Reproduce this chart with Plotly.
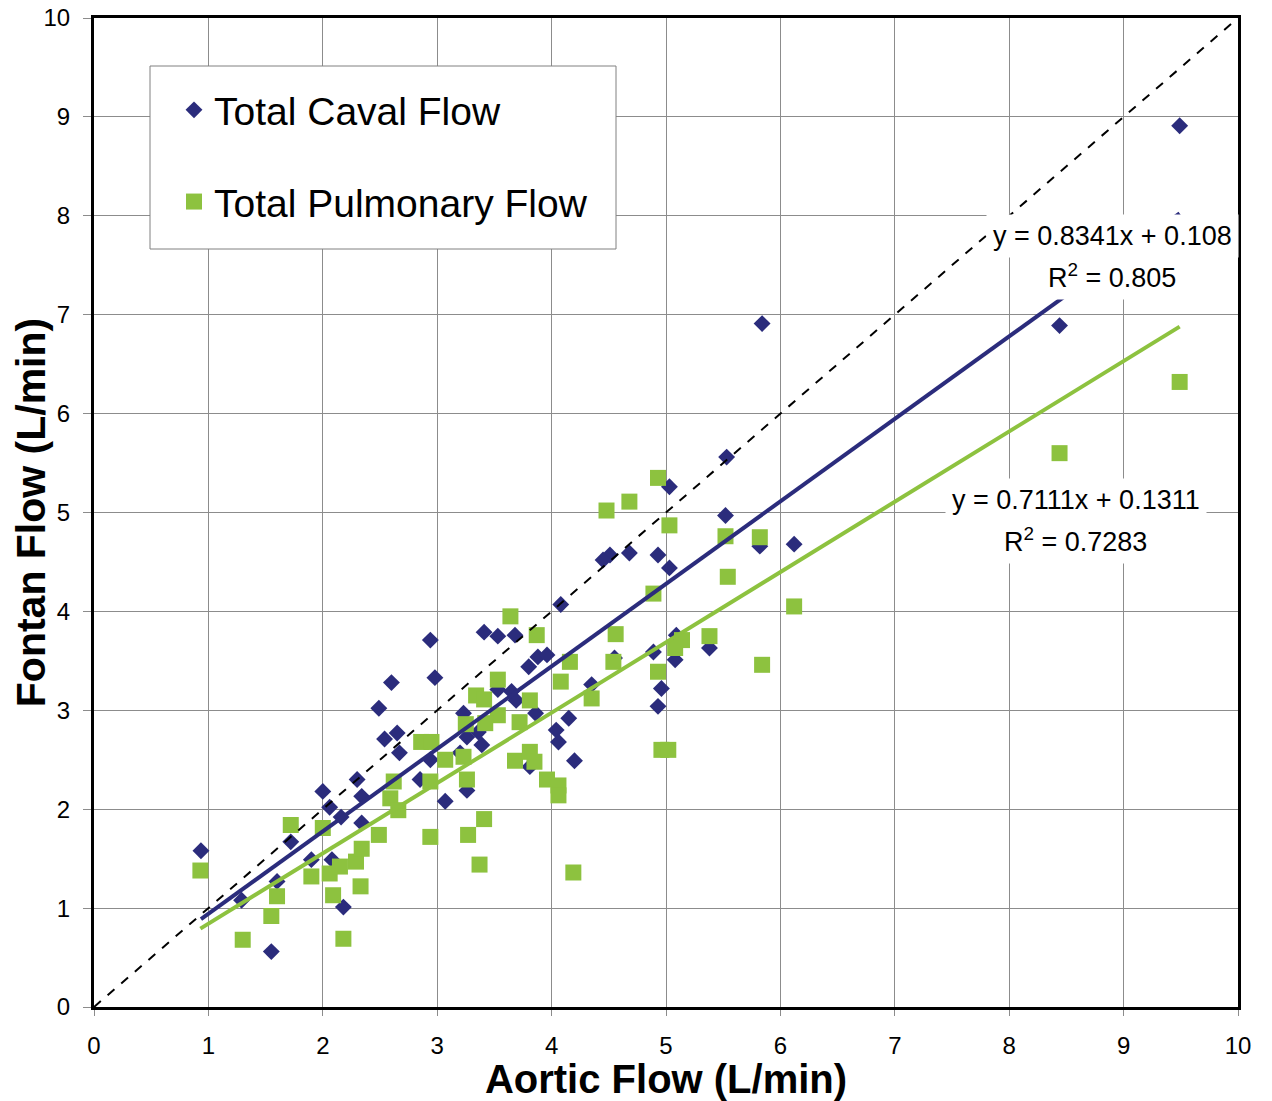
import plotly.graph_objects as go

# ---- data ----
caval_x = [0.935, 1.29, 1.55, 1.60, 1.72, 1.90, 2.00, 2.06, 2.16, 2.08, 2.18, 2.30, 2.34, 2.34,
           2.49, 2.60, 2.54, 2.65, 2.67, 2.94, 2.98, 2.85, 2.94, 3.07, 3.26, 3.23, 3.36, 3.39,
           3.26, 3.20, 3.41, 3.53, 3.68, 4.08, 3.80, 3.88, 3.96, 3.65, 3.69, 3.53, 3.86, 4.15,
           4.04, 4.06, 4.20, 3.81, 5.03, 5.53, 5.52, 4.51, 4.45, 4.68, 4.93, 5.03, 5.82, 6.12,
           4.55, 4.89, 5.09, 5.08, 5.38, 4.96, 4.93, 4.35, 9.49, 8.44, 5.84]
caval_y = [1.58, 1.08, 0.56, 1.27, 1.67, 1.49, 2.18, 2.02, 1.92, 1.49, 1.01, 2.30, 2.13, 1.86,
           3.02, 3.28, 2.71, 2.77, 2.57, 3.71, 3.33, 2.30, 2.50, 2.08, 2.19, 2.97, 2.78, 2.65,
           2.73, 2.57, 3.79, 3.75, 3.76, 4.07, 3.44, 3.54, 3.56, 3.19, 3.10, 3.21, 2.97, 2.92,
           2.80, 2.68, 2.49, 2.43, 5.26, 5.56, 4.97, 4.57, 4.52, 4.59, 4.57, 4.44, 4.66, 4.68,
           3.53, 3.59, 3.76, 3.51, 3.63, 3.22, 3.04, 3.26, 8.91, 6.89, 6.91]

pulm_x = [0.93, 1.30, 1.55, 1.60, 1.72, 1.90, 2.00, 2.06, 2.09, 2.18, 2.15, 2.29, 2.34, 2.33,
          2.49, 2.62, 2.59, 2.66, 2.86, 2.95, 2.94, 2.94, 3.64, 3.87, 4.16, 4.08, 3.53, 3.34,
          3.41, 3.81, 3.53, 3.42, 3.25, 3.72, 3.07, 3.23, 3.26, 3.27, 3.41, 3.37, 4.19, 3.68,
          3.81, 3.85, 3.96, 4.06, 4.06, 4.93, 4.48, 4.68, 5.03, 5.52, 5.82, 5.54, 4.89, 6.12,
          4.56, 5.14, 5.38, 5.08, 4.54, 4.93, 5.84, 4.35, 4.96, 5.02, 8.44, 9.49]
pulm_y = [1.38, 0.68, 0.92, 1.12, 1.84, 1.32, 1.81, 1.35, 1.13, 0.69, 1.42, 1.47, 1.60, 1.22,
          1.74, 2.28, 2.11, 1.99, 2.68, 2.68, 2.28, 1.72, 3.95, 3.76, 3.49, 3.29, 3.31, 3.15,
          3.11, 3.10, 2.95, 2.87, 2.86, 2.88, 2.50, 2.53, 2.30, 1.74, 1.90, 1.44, 1.36, 2.49,
          2.58, 2.48, 2.30, 2.24, 2.14, 5.35, 5.02, 5.11, 4.87, 4.76, 4.75, 4.35, 4.18, 4.05,
          3.77, 3.71, 3.75, 3.63, 3.49, 3.39, 3.46, 3.12, 2.60, 2.60, 5.60, 6.32]

# trendline coefficients as printed on the chart
caval_slope, caval_intercept, caval_r2 = 0.8341, 0.108, "0.805"
pulm_slope, pulm_intercept, pulm_r2 = 0.7111, 0.1311, "0.7283"

axis_ticks = list(range(0, 11))

NAVY = "#2B2C7C"
GREEN = "#8DC23F"

fig = go.Figure()
fig.add_trace(go.Scatter(x=caval_x, y=caval_y, mode="markers", name="Total Caval Flow",
                         legendgroup="caval",
                         marker=dict(symbol="diamond", size=13, color=NAVY)))
fig.add_trace(go.Scatter(x=pulm_x, y=pulm_y, mode="markers", name="Total Pulmonary Flow",
                         legendgroup="pulm",
                         marker=dict(symbol="square", size=16, color=GREEN)))

cx = [min(caval_x), max(caval_x)]
px_ = [min(pulm_x), max(pulm_x)]
fig.add_trace(go.Scatter(x=cx, y=[caval_slope * v + caval_intercept for v in cx], mode="lines",
                         line=dict(color=NAVY, width=4), showlegend=False, hoverinfo="skip"))
fig.add_trace(go.Scatter(x=px_, y=[pulm_slope * v + pulm_intercept for v in px_], mode="lines",
                         line=dict(color=GREEN, width=4), showlegend=False, hoverinfo="skip"))
fig.add_trace(go.Scatter(x=[axis_ticks[0], axis_ticks[-1]], y=[axis_ticks[0], axis_ticks[-1]],
                         mode="lines", line=dict(color="black", width=2, dash="dash"),
                         showlegend=False, hoverinfo="skip"))

FONT = "Liberation Sans, Arial, sans-serif"

ann_font = dict(family=FONT, size=27, color="black")
fig.add_annotation(x=8.90, y=7.80, text=f"y = {caval_slope}x + {caval_intercept}", showarrow=False,
                   font=ann_font, bgcolor="white", borderpad=6)
fig.add_annotation(x=8.90, y=7.39, text=f"R<sup>2</sup> = {caval_r2}", showarrow=False,
                   font=ann_font, bgcolor="white", borderpad=6)
fig.add_annotation(x=8.58, y=5.13, text=f"y = {pulm_slope}x + {pulm_intercept}", showarrow=False,
                   font=ann_font, bgcolor="white", borderpad=6)
fig.add_annotation(x=8.58, y=4.72, text=f"R<sup>2</sup> = {pulm_r2}", showarrow=False,
                   font=ann_font, bgcolor="white", borderpad=6)

# plot area in the reference: x 94..1238, y 18..1007 (page has an 8px body margin)
PW, PH = 1144, 989
fig.add_shape(type="rect", xref="paper", yref="paper",
              x0=(150 - 94) / PW, x1=(616 - 94) / PW,
              y0=(1007 - 249) / PH, y1=(1007 - 66) / PH,
              line=dict(color="#808080", width=1), fillcolor="white", layer="above")

fig.update_layout(
    width=1264, height=1093,
    margin=dict(l=86, r=34, t=10, b=94, autoexpand=False),
    paper_bgcolor="white", plot_bgcolor="white",
    font=dict(family=FONT, size=24, color="black"),
    showlegend=True,
    legend=dict(x=(174 - 94) / PW, y=(1007 - 78) / PH, xanchor="left", yanchor="top",
                bgcolor="rgba(0,0,0,0)", borderwidth=0,
                font=dict(family=FONT, size=39, color="black"),
                tracegroupgap=38, itemsizing="trace"),
    xaxis=dict(range=[0, 10], tickvals=axis_ticks, showgrid=True, gridcolor="#8c8c8c", gridwidth=1,
               zeroline=False, showline=True, mirror=True, linecolor="black", linewidth=3,
               ticks="outside", ticklen=6, tickcolor="#8c8c8c", ticklabelstandoff=9,
               tickfont=dict(family=FONT, size=24), automargin=False, ticklabeloverflow="allow",
               title=dict(text="<b>Aortic Flow (L/min)</b>", standoff=18,
                          font=dict(family=FONT, size=40))),
    yaxis=dict(range=[0, 10], tickvals=axis_ticks, showgrid=True, gridcolor="#8c8c8c", gridwidth=1,
               zeroline=False, showline=True, mirror=True, linecolor="black", linewidth=3,
               ticks="outside", ticklen=8, tickcolor="#8c8c8c", ticklabelstandoff=8,
               tickfont=dict(family=FONT, size=24), automargin=False, ticklabeloverflow="allow",
               title=dict(text="<b>Fontan Flow (L/min)</b>", standoff=6,
                          font=dict(family=FONT, size=41))),
)

fig.write_html("out.html")
